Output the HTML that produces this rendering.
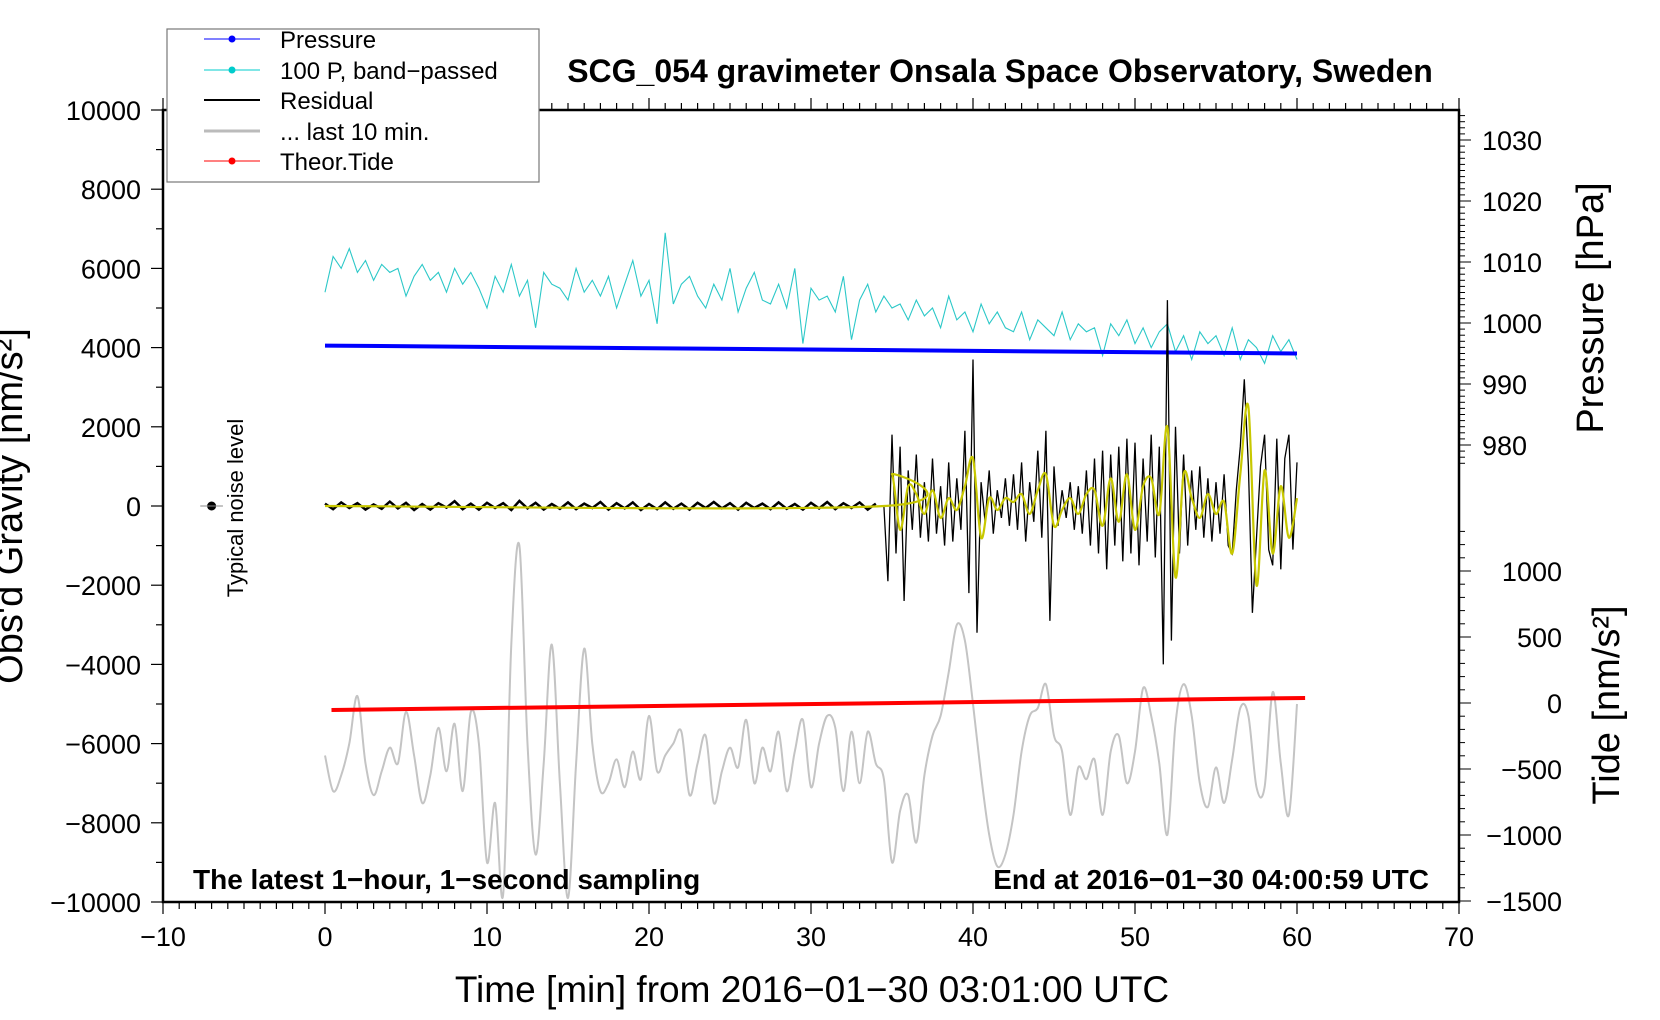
<!DOCTYPE html>
<html><head><meta charset="utf-8">
<style>
html,body{margin:0;padding:0;background:#fff;}
svg{display:block;font-family:"Liberation Sans",sans-serif;}
</style></head>
<body>
<svg id="chart" width="1660" height="1020" viewBox="0 0 1660 1020" xmlns="http://www.w3.org/2000/svg">
<rect x="0" y="0" width="1660" height="1020" fill="#fff"/>
<g id="marks"></g>
<g id="axes"></g>
<text x="1000" y="82" font-size="32" font-weight="bold" text-anchor="middle">SCG_054 gravimeter Onsala Space Observatory, Sweden</text>
<text x="193" y="889" font-size="28" font-weight="bold">The latest 1−hour, 1−second sampling</text>
<text x="1429" y="889" font-size="28" font-weight="bold" text-anchor="end">End at 2016−01−30 04:00:59 UTC</text>
<text x="812" y="1002" font-size="37" text-anchor="middle">Time [min] from 2016−01−30 03:01:00 UTC</text>
<text transform="translate(22,506) rotate(-90)" font-size="38" text-anchor="middle">Obs'd Gravity [nm/s²]</text>
<text transform="translate(1603,308) rotate(-90)" font-size="38" text-anchor="middle">Pressure [hPa]</text>
<text transform="translate(1619,705) rotate(-90)" font-size="38" text-anchor="middle">Tide [nm/s²]</text>
<text transform="translate(243,508) rotate(-90)" font-size="22" text-anchor="middle">Typical noise level</text>
<g>
<rect x="167" y="29" width="372" height="153" fill="#fff" stroke="#777" stroke-width="1.2"/>
<g><line x1="204" y1="39" x2="260" y2="39" stroke="#00f" stroke-width="1"/><circle cx="232" cy="39" r="3.5" fill="#00f"/><text x="280" y="48" font-size="24">Pressure</text></g>
<g><line x1="204" y1="70" x2="260" y2="70" stroke="#0cc" stroke-width="1"/><circle cx="232" cy="70" r="3.5" fill="#0cc"/><text x="280" y="79" font-size="24">100 P, band−passed</text></g>
<g><line x1="204" y1="100" x2="260" y2="100" stroke="#000" stroke-width="2"/><text x="280" y="109" font-size="24">Residual</text></g>
<g><line x1="204" y1="131" x2="260" y2="131" stroke="#bbb" stroke-width="3"/><text x="280" y="140" font-size="24">... last 10 min.</text></g>
<g><line x1="204" y1="161" x2="260" y2="161" stroke="#f00" stroke-width="1"/><circle cx="232" cy="161" r="3.5" fill="#f00"/><text x="280" y="170" font-size="24">Theor.Tide</text></g>
</g>
</svg>
<script>
// ---- data ----
const pressureStart = [996.3];
const pressureEnd = [995.0];
const tideStart = [-53];
const tideEnd = [38];
const bandPassed = [5400,6300,6000,6500,5900,6200,5700,6100,5900,6000,5300,5800,6100,5700,5900,5400,6000,5600,5900,5500,5000,5800,5400,6100,5300,5700,4500,5900,5600,5500,5200,6000,5400,5700,5300,5800,5000,5600,6200,5300,5700,4600,6900,5100,5600,5800,5300,5000,5600,5200,6000,4900,5500,5900,5200,5100,5600,5000,6000,4100,5500,5200,5300,4900,5800,4200,5200,5600,4900,5300,5000,5100,4700,5200,4800,5000,4500,5300,4700,4900,4400,5100,4600,4900,4500,4400,4900,4200,4700,4500,4300,4900,4200,4600,4400,4500,3800,4600,4300,4700,4100,4500,4000,4400,4600,3900,4300,3700,4400,4100,4300,3800,4500,3700,4200,4000,3600,4300,3900,4200,3700];
const residEarly = [60,-80,90,-50,70,-90,40,-70,110,-60,80,-100,50,-90,70,-40,120,-80,60,-90,80,-50,70,-100,130,-60,80,-90,50,-70,90,-80,60,-50,100,-90,70,-60,90,-100,50,-80,90,-70,60,-90,80,-50,100,-60,70,-90,80,-50,60,-80,90,-70,50,-90,80,-60,100,-80,70,-50,90,-90,60];
const residLate = [0,-1900,1800,-1200,1500,-2400,900,-600,1300,-800,600,-900,1200,-700,500,-1000,1100,-900,700,-600,1900,-2200,3700,-3200,600,-400,900,-700,400,-300,700,-500,800,-600,1100,-900,600,-400,1400,-800,1900,-2900,1000,-500,400,-300,600,-600,500,-700,900,-1000,1200,-1200,1400,-1600,1300,-1000,1500,-1400,1700,-1200,1600,-1500,1200,-900,1800,-1300,1500,-4000,5200,-3400,2000,-1200,1300,-1000,900,-600,1000,-800,700,-900,600,-700,800,-1000,-1200,400,1500,3200,1000,-2700,-800,1000,1800,-1100,-1500,1700,-1600,1200,1800,-1100,1100];
const smoothed = [0,800,-600,500,300,-200,400,-300,200,-100,500,1200,-800,200,-100,200,100,300,-200,400,800,-500,-100,200,-200,300,400,-500,700,-400,800,-600,500,700,-200,2000,-1800,800,200,-300,300,-200,100,-1200,800,2500,-2000,900,-1200,500,-800,200];
const last10 = [-6300,-7200,-6800,-6000,-4800,-6500,-7300,-6700,-6100,-6500,-5200,-6300,-7500,-6800,-5600,-6700,-5500,-7200,-5200,-6000,-9000,-7500,-9800,-3500,-1000,-6000,-8800,-6500,-3500,-7000,-9900,-6500,-3600,-6000,-7200,-7000,-6400,-7100,-6200,-6900,-5300,-6700,-6300,-6000,-5700,-7300,-6500,-5800,-7500,-6700,-6100,-6600,-5400,-7000,-6100,-6700,-5700,-7200,-6200,-5400,-7100,-6000,-5300,-5600,-7200,-5700,-7000,-5700,-6500,-6900,-9000,-7700,-7300,-8500,-6800,-5800,-5300,-4200,-3000,-3400,-5000,-6800,-8300,-9100,-8800,-7800,-6200,-5300,-5100,-4500,-5800,-6200,-7800,-6600,-6900,-6400,-7800,-6200,-5800,-7000,-6200,-4600,-5300,-6500,-8300,-5500,-4500,-5300,-7000,-7600,-6600,-7500,-6400,-5100,-5300,-7100,-7100,-4700,-6500,-7800,-5000];
const xTicks = [-10,0,10,20,30,40,50,60,70];
const yTicks = [10000,8000,6000,4000,2000,0,-2000,-4000,-6000,-8000,-10000];
const pTicks = [1030,1020,1010,1000,990,980];
const tTicks = [1000,500,0,-500,-1000,-1500];

// ---- scales ----
const L=163,R=1459,T=110,B=902;
const X = t => 325 + t*16.2;
const Y = g => 506 - g*0.0396;
const YP = p => 323 - (p-1000)*6.1;
const YT = v => 703 - v*0.132;
const NS='http://www.w3.org/2000/svg';
const marks=document.getElementById('marks'), axes=document.getElementById('axes');
function mk(tag, attrs, parent){const e=document.createElementNS(NS,tag);for(const k in attrs)e.setAttribute(k,attrs[k]);parent.appendChild(e);return e;}
function linePath(pts){return pts.map((p,i)=>(i?'L':'M')+p[0].toFixed(1)+','+p[1].toFixed(1)).join('');}
function smoothPath(p){let d='M'+p[0][0]+','+p[0][1];for(let i=0;i<p.length-1;i++){const p0=p[i-1]||p[i],p1=p[i],p2=p[i+1],p3=p[i+2]||p2;d+='C'+(p1[0]+(p2[0]-p0[0])/6).toFixed(1)+','+(p1[1]+(p2[1]-p0[1])/6).toFixed(1)+' '+(p2[0]-(p3[0]-p1[0])/6).toFixed(1)+','+(p2[1]-(p3[1]-p1[1])/6).toFixed(1)+' '+p2[0].toFixed(1)+','+p2[1].toFixed(1);}return d;}

let g1=mk('path',{d:smoothPath(last10.map((v,i)=>[X(i*0.5),Y(v)])),fill:'none',stroke:'#c4c4c4','stroke-width':2},marks);


let c1=mk('path',{d:linePath(bandPassed.map((v,i)=>[X(i*60/(bandPassed.length-1)),Y(v)])),fill:'none',stroke:'#2cc8c8','stroke-width':1.1},marks);


let p1=mk('line',{x1:X(0),y1:YP(pressureStart[0]),x2:X(60),y2:YP(pressureEnd[0]),stroke:'#0000ff','stroke-width':4},marks);


let r0=mk('path',{d:linePath(residEarly.map((v,i)=>[X(i*0.5),Y(v)])),fill:'none',stroke:'#000','stroke-width':2.5},marks);


let r1=mk('path',{d:linePath(residLate.map((v,i)=>[X(34.5+i*0.25),Y(v)])),fill:'none',stroke:'#000','stroke-width':1.3},marks);


const smPts=[[X(0),Y(0)],[X(34.5),Y(0)]].concat(smoothed.slice(1).map((v,i)=>[X(35+i*0.5),Y(v)]));
let y1=mk('path',{d:smoothPath(smPts),fill:'none',stroke:'#c8c800','stroke-width':2.2},marks);


let t1=mk('line',{x1:X(0.4),y1:YT(tideStart[0]),x2:X(60.5),y2:YT(tideEnd[0]),stroke:'#ff0000','stroke-width':4},marks);


let n1=mk('circle',{cx:X(-7),cy:Y(0),r:4.5,fill:'#000'},marks);


mk('line',{x1:X(-7.7),y1:Y(0),x2:X(-6.3),y2:Y(0),stroke:'#888','stroke-width':1},marks);

let fr=mk('rect',{x:L,y:T,width:R-L,height:B-T,fill:'none',stroke:'#000','stroke-width':2.5},axes);


for(let m=-10;m<=70;m++){const big=m%10===0;const x=X(m);
 mk('line',{x1:x,y1:B,x2:x,y2:B+(big?12:7),stroke:'#000','stroke-width':1.2},axes);
 mk('line',{x1:x,y1:T,x2:x,y2:T-(big?12:7),stroke:'#000','stroke-width':1.2},axes);}
xTicks.forEach(v=>{const t=mk('text',{x:X(v),y:946,'font-size':27,'text-anchor':'middle'},axes);t.textContent=String(v).replace('-','−');
 
 });
for(let g=-10000;g<=10000;g+=1000){const big=g%2000===0;mk('line',{x1:L,y1:Y(g),x2:L-(big?12:7),y2:Y(g),stroke:'#000','stroke-width':1.2},axes);}
yTicks.forEach(v=>{const t=mk('text',{x:141,y:Y(v)+10,'font-size':27,'text-anchor':'end'},axes);t.textContent=String(v).replace('-','−');
 
 });
for(let p=977;p<=1034;p++){const big=p%10===0;mk('line',{x1:R,y1:YP(p),x2:R+(big?12:6),y2:YP(p),stroke:'#000','stroke-width':1},axes);}
pTicks.forEach(v=>{const t=mk('text',{x:1482,y:YP(v)+10,'font-size':27},axes);t.textContent=String(v);
 
 });
for(let v=-1500;v<=1300;v+=100){const big=v%500===0;mk('line',{x1:R,y1:YT(v),x2:R+(big?12:6),y2:YT(v),stroke:'#000','stroke-width':1},axes);}
tTicks.forEach(v=>{const t=mk('text',{x:1562,y:YT(v)+10,'font-size':27,'text-anchor':'end'},axes);t.textContent=String(v).replace('-','−');
 
 });
</script>
</body></html>
